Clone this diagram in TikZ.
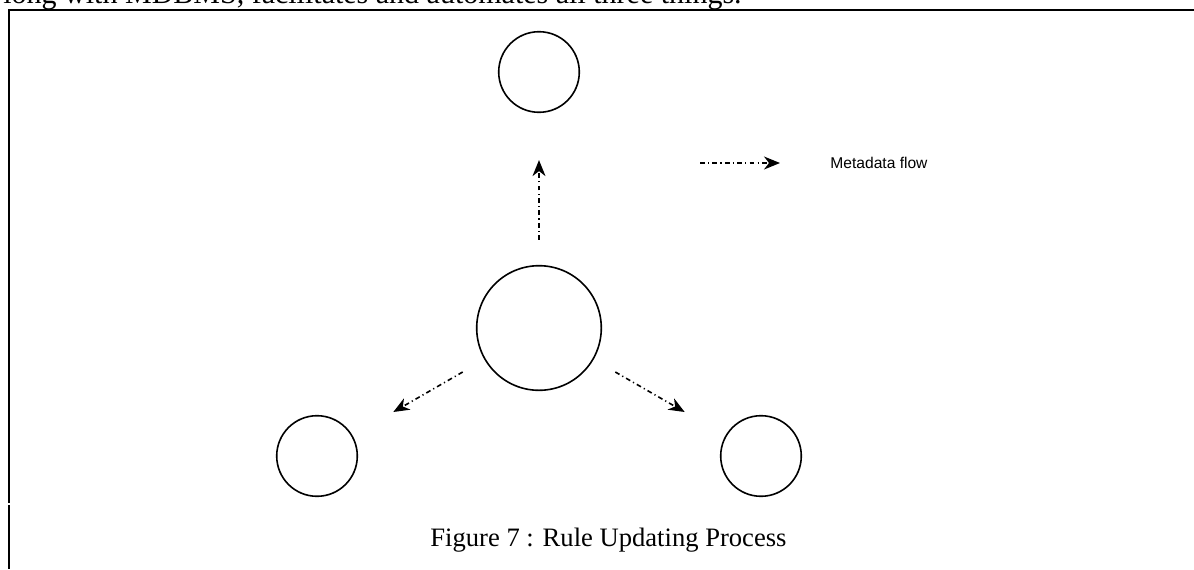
\documentclass[tikz,border=0pt]{standalone}
\usepackage{fontspec}
\setmainfont{Liberation Serif}
\newfontfamily\legendfont{Liberation Sans}
\usepackage{tikz}
\usetikzlibrary{arrows.meta, positioning, calc}
\tikzset{
  ring/.style     = {draw, circle, line width=0.8pt, inner sep=0pt},
  small ring/.style = {ring, minimum size=40.3pt},
  big ring/.style = {ring, minimum size=62.3pt},
  mflow/.style    = {-{Stealth[length=8pt, width=6.5pt, inset=2.5pt]}, line width=0.8pt,
                     dash pattern=on 2.4pt off 1.6pt on 0.6pt off 1.6pt},
  link/.style     = {mflow, shorten <=12.5pt, shorten >=23.5pt},
  frame/.style    = {line width=1.1pt},
  lbl/.style      = {font=\legendfont\fontsize{7.8}{9}\selectfont, inner sep=0pt, anchor=west},
  txt/.style      = {inner sep=0pt, anchor=base west},
}

\begin{document}
\begin{tikzpicture}[x=0.5pt, y=-0.5pt]
    \useasboundingbox (0,0) rectangle (1194,569);
    \clip (0,0) rectangle (1194,569);

    % text of the page around the figure
    \node[txt, font=\fontsize{15}{18}\selectfont] (prev) at (3,3.5)
      {long with MDBMS, facilitates and automates all three things.};
    \draw[frame] (1194,10) -- (8.7,10) -- (8.7,503);
    \draw[frame] (8.7,505) -- (8.7,569);

    % the four stores
    \node[big ring] (ctr) at (539,328) {};
    \node[small ring] (up)  at ([shift={(0,-256)}]ctr) {};
    \node[small ring] (lft) at ([shift={(-222,128)}]ctr) {};
    \node[small ring] (rgt) at ([shift={(222,128)}]ctr) {};

    \draw[link] (ctr) -- (up);
    \draw[link] (ctr) -- (lft);
    \draw[link] (ctr) -- (rgt);

    % legend
    \coordinate (lga) at (700,163);
    \coordinate (lgb) at (780,163);
    \draw[mflow] (lga) -- (lgb);
    \node[lbl] (lgd) at (830,163) {Metadata flow};

    \node[txt, font=\fontsize{13.3}{16}\selectfont] (cap) at (430,546)
      {Figure 7 : Rule Updating Process};
  \end{tikzpicture}
\end{document}
